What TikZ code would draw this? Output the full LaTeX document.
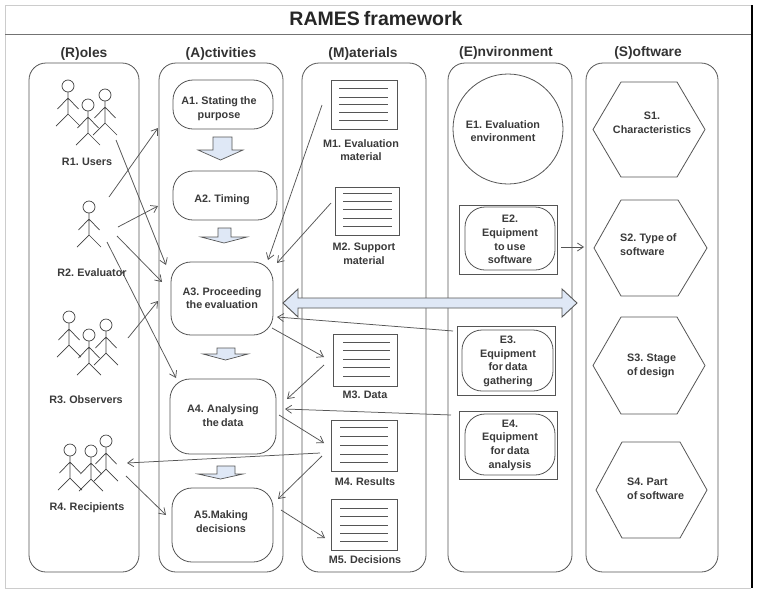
\documentclass[tikz,border=0pt]{standalone}
\usepackage{fontspec}
\setmainfont[WordSpace=0.75]{Liberation Sans}
\usetikzlibrary{arrows.meta}
\definecolor{ink}{HTML}{555555}
\definecolor{txt}{HTML}{3A3A3A}
\definecolor{pale}{HTML}{DFE8F6}
\tikzset{
  lbl/.style={font=\fontsize{10.8}{13.6}\selectfont\bfseries,text=txt,align=center,inner sep=0pt,yshift=-1pt},
  lblleft/.style={lbl,align=left},
  head/.style={font=\fontsize{13.8}{16}\selectfont\bfseries,text=black!80,inner sep=0pt,yshift=-1pt},
  title/.style={font=\fontsize{19.5}{22}\selectfont\bfseries,text=black!85,inner sep=0pt},
  boxshape/.style={draw=ink,line width=.8pt,inner sep=0pt,outer sep=0pt,fill=none},
  column/.style={boxshape,rounded corners=17pt},
  stage/.style={boxshape,rounded corners=20pt},
  plainbox/.style={boxshape,line width=.9pt},
  conn/.style={draw=ink,line width=.75pt,-{Straight Barb[length=6pt,width=8pt,line width=.75pt]}},
  blockarrow/.style={draw=ink,line width=.7pt,fill=pale,line join=miter},
  hexa/.style={draw=ink,line width=.8pt,line join=round},
  doctext/.style={draw=ink,line width=.8pt},
  figure/.style={draw=black!75,line width=.7pt},
  actor/.pic={
    \draw[figure] (0,0) circle (6);
    \draw[figure] (0,6) -- (0,28) -- (-12,40) (0,28) -- (12,40) (-10.5,23) -- (0,12) -- (10.5,23);
  }
}
\newcommand\bx[7]{\node[#1,minimum width={(#5-#3)*1pt},minimum height={(#6-#4)*1pt}] (#2) at ({(#3+#5)/2},{(#4+#6)/2}) {#7};}
\newcommand\blockdown[7]{\draw[blockarrow] (#1,#3) -- (#2,#3) -- (#2,#4) -- (#6,#4) -- ({(#5+#6)/2},#7) -- (#5,#4) -- (#1,#4) -- cycle;}
\newcommand\hexshape[6]{\draw[hexa] (#1,{(#3+#4)/2}) -- (#5,#3) -- (#6,#3) -- (#2,{(#3+#4)/2}) -- (#6,#4) -- (#5,#4) -- cycle;}
\begin{document}
\begin{tikzpicture}[x=1pt,y=-1pt]
\useasboundingbox (0,0) rectangle (759,592);
\fill[white] (0,0) rectangle (759,592);
% frame
\draw[black!20,line width=1pt] (5,5) -- (751,5) (5,5) -- (5,588) -- (751,588);
\draw[black!55,line width=1pt] (5,34) -- (751,34);
\draw[black,line width=2pt] (752,5) -- (752,588);
\node[title] (T) at (376,19) {RAMES framework};
% columns
\bx{column}{colR}{29}{63}{139}{572}{}
\bx{column}{colA}{159}{63}{283}{572}{}
\bx{column}{colM}{302}{63}{426}{572}{}
\bx{column}{colE}{448}{63}{572}{572}{}
\bx{column}{colS}{586}{63}{718}{572}{}
\node[head] (hR) at (84,53) {(R)oles};
\node[head] (hA) at (221,53) {(A)ctivities};
\node[head] (hM) at (363,53) {(M)aterials};
\node[head] (hE) at (506,52) {(E)nvironment};
\node[head] (hS) at (648,52) {(S)oftware};
% actors
\pic at (68,86) {actor};
\pic at (88,105) {actor};
\pic at (105,95) {actor};
\pic at (89,207) {actor};
\pic at (69,317) {actor};
\pic at (89,335) {actor};
\pic at (106,325) {actor};
\pic at (70,450) {actor};
\pic at (91,451) {actor};
\pic at (106,441) {actor};
\node[lbl] (R1) at (87,161) {R1. Users};
\node[lbl] (R2) at (92,272) {R2. Evaluator};
\node[lbl] (R3) at (86,399) {R3. Observers};
\node[lbl] (R4) at (87,507) {R4. Recipients};
% activities
\bx{stage}{A1}{173}{80}{273}{129}{}
\bx{stage}{A2}{173}{171}{277}{220}{}
\bx{stage}{A3}{171}{262}{273}{335}{}
\bx{stage}{A4}{170}{379}{276}{454}{}
\bx{stage}{A5}{172}{488}{273}{562}{}
\node[lbl] (tA1) at (219,108) {A1. Stating the\\purpose};
\node[lbl] (tA2) at (222,199) {A2. Timing};
\node[lbl] (tA3) at (222,297) {A3. Proceeding\\the evaluation};
\node[lbl] (tA4) at (223,414.5) {A4. Analysing\\the data};
\node[lbl] (tA5) at (221,520.5) {A5.Making\\decisions};
\blockdown{213}{232}{137}{150}{198}{243}{160}
\blockdown{218}{231}{228}{237}{201}{247}{243}
\blockdown{217}{235}{348}{354}{203}{248}{360}
\blockdown{217}{235}{466}{474}{198}{243}{479}
% materials
\bx{plainbox}{M1}{331}{80}{397}{129}{}
\bx{plainbox}{M2}{335}{187}{399}{235}{}
\bx{plainbox}{M3}{333}{334}{397}{386}{}
\bx{plainbox}{M4}{331}{420}{397}{471}{}
\bx{plainbox}{M5}{331}{499}{397}{550}{}
\foreach \y in {88,97,104,112,120} \draw[doctext] (339,\y) -- (388,\y);
\foreach \y in {193,201,209,218,226} \draw[doctext] (343,\y) -- (392,\y);
\foreach \y in {342,350,359,367,376} \draw[doctext] (343,\y) -- (390,\y);
\foreach \y in {427,436,445,454,462} \draw[doctext] (340,\y) -- (388,\y);
\foreach \y in {508,516,525,533,541} \draw[doctext] (340,\y) -- (388,\y);
\node[lbl] (tM1) at (361,149) {M1. Evaluation\\material};
\node[lbl] (tM2) at (364,252.5) {M2. Support\\material};
\node[lbl] (tM3) at (365,394) {M3. Data};
\node[lbl] (tM4) at (365,481) {M4. Results};
\node[lbl] (tM5) at (365,559) {M5. Decisions};
% environment
\node[circle,boxshape,minimum size=110pt] (E1) at (508,129) {};
\node[lbl] (tE1) at (503,130) {E1. Evaluation\\environment};
\bx{plainbox}{E2}{459}{205}{557}{274}{}
\bx{stage}{E2i}{465}{207}{555}{270}{}
\bx{plainbox}{E3}{457}{326}{555}{395}{}
\bx{stage}{E3i}{462}{330}{553}{391}{}
\bx{plainbox}{E4}{459}{411}{557}{479}{}
\bx{stage}{E4i}{465}{414}{555}{475}{}
\node[lbl] (tE2) at (510,238.5) {E2.\\Equipment\\to use\\software};
\node[lbl] (tE3) at (508,360.5) {E3.\\Equipment\\for data\\gathering};
\node[lbl] (tE4) at (510,444) {E4.\\Equipment\\for data\\analysis};
% software
\hexshape{593}{705}{82}{177}{621}{677}
\hexshape{594}{707}{200}{296}{621}{678}
\hexshape{593}{705}{317}{414}{621}{677}
\hexshape{596}{707}{442}{538}{622}{680}
\node[lbl] (tS1) at (652,121.5) {S1.\\Characteristics};
\node[lblleft,anchor=west] (tS2) at (620,243.5) {S2. Type of\\software};
\node[lblleft,anchor=west] (tS3) at (627,365) {S3. Stage\\of design};
\node[lblleft,anchor=west] (tS4) at (627,488) {S4. Part\\of software};
% wide double arrow
\draw[blockarrow,line width=.9pt] (283,303) -- (298,289) -- (298,298) -- (562,298) -- (562,289) -- (577,303) -- (562,317) -- (562,308) -- (298,308) -- (298,317) -- cycle;
% connector ends
\coordinate (r1o) at (116,140); \coordinate (a3i1) at (166,265);
\coordinate (r2o1) at (109,197); \coordinate (a1i) at (158,128);
\coordinate (r2o2) at (118,227); \coordinate (a2i) at (158,206);
\coordinate (r2o3) at (117,236); \coordinate (a3i2) at (162,282);
\coordinate (r2o4) at (107,242); \coordinate (a4i1) at (176,378);
\coordinate (r3o) at (128,338); \coordinate (a3i3) at (158,301);
\coordinate (m1o) at (322,105); \coordinate (a3i4) at (268,260);
\coordinate (m2o) at (331,203); \coordinate (a3i5) at (277,263);
\coordinate (e3o) at (453,331); \coordinate (a3i6) at (277,317);
\coordinate (a3o) at (272,328); \coordinate (m3i) at (324,357);
\coordinate (m3o) at (324,365); \coordinate (a4i2) at (287,399);
\coordinate (e4o) at (451,415); \coordinate (a4i3) at (285,409);
\coordinate (a4o) at (279,415); \coordinate (m4i) at (324,443);
\coordinate (m4o1) at (320,453); \coordinate (r4i) at (127,463);
\coordinate (m4o2) at (322,456); \coordinate (a5i1) at (278,499);
\coordinate (r4o) at (126,476); \coordinate (a5i2) at (166,515);
\coordinate (a5o) at (281,510); \coordinate (m5i) at (325,538);
\coordinate (e2o) at (561,247); \coordinate (s2i) at (584,247);
% connectors
\draw[conn] (r1o) -- (a3i1);
\draw[conn] (r2o1) -- (a1i);
\draw[conn] (r2o2) -- (a2i);
\draw[conn] (r2o3) -- (a3i2);
\draw[conn] (r2o4) -- (a4i1);
\draw[conn] (r3o) -- (a3i3);
\draw[conn] (m1o) -- (a3i4);
\draw[conn] (m2o) -- (a3i5);
\draw[conn] (e3o) -- (a3i6);
\draw[conn] (a3o) -- (m3i);
\draw[conn] (m3o) -- (a4i2);
\draw[conn] (e4o) -- (a4i3);
\draw[conn] (a4o) -- (m4i);
\draw[conn] (m4o1) -- (r4i);
\draw[conn] (m4o2) -- (a5i1);
\draw[conn] (r4o) -- (a5i2);
\draw[conn] (a5o) -- (m5i);
\draw[conn] (e2o) -- (s2i);
\end{tikzpicture}
\end{document}
